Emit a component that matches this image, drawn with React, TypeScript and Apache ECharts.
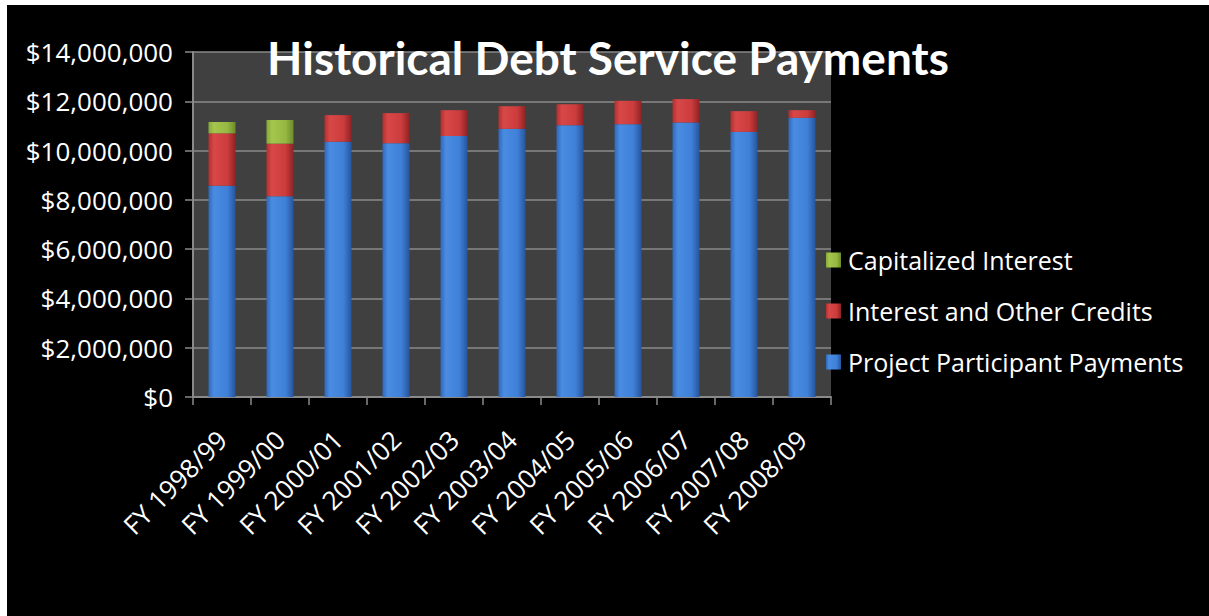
import React, { useEffect, useRef } from "react";
import * as echarts from "echarts";

const categories = [
  "FY 1998/99", "FY 1999/00", "FY 2000/01", "FY 2001/02", "FY 2002/03", "FY 2003/04",
  "FY 2004/05", "FY 2005/06", "FY 2006/07", "FY 2007/08", "FY 2008/09",
];
const projectParticipantPayments = [
  8570000, 8150000, 10360000, 10300000, 10590000, 10880000,
  11030000, 11070000, 11140000, 10760000, 11330000,
];
const interestAndOtherCredits = [
  2130000, 2130000, 1080000, 1220000, 1050000, 920000,
  850000, 950000, 950000, 840000, 310000,
];
const capitalizedInterest = [460000, 960000, 0, 0, 0, 0, 0, 0, 0, 0, 0];
const yTicks = [0, 2000000, 4000000, 6000000, 8000000, 10000000, 12000000, 14000000];

const FONT = "'Open Sans', 'DejaVu Sans', sans-serif";

function grad(edgeL: string, light: string, mid: string, edgeR: string) {
  return new echarts.graphic.LinearGradient(0, 0, 1, 0, [
    { offset: 0, color: edgeL },
    { offset: 0.2, color: light },
    { offset: 0.7, color: mid },
    { offset: 1, color: edgeR },
  ]);
}

export default function App() {
  const ref = useRef<HTMLDivElement>(null);
  useEffect(() => {
    if (!ref.current) return;
    const chart = echarts.init(ref.current, undefined, { renderer: "svg" });
    const fmt = (v: number) => "$" + v.toLocaleString("en-US");
    chart.setOption({
      animation: false,
      backgroundColor: "#000000",
      title: {
        text: "Historical Debt Service Payments",
        left: "center",
        top: 24,
        textStyle: {
          color: "#ffffff",
          fontFamily: "Lato, 'Open Sans', sans-serif",
          fontWeight: "bold",
          fontSize: 46,
        },
      },
      legend: {
        orient: "vertical",
        left: 814,
        top: 236,
        itemWidth: 15,
        itemHeight: 15,
        itemGap: 23,
        icon: "rect",
        data: ["Capitalized Interest", "Interest and Other Credits", "Project Participant Payments"],
        textStyle: { color: "#ffffff", fontFamily: FONT, fontSize: 25, lineHeight: 28, padding: [0, 0, 0, 2] },
      },
      grid: {
        left: 186,
        top: 47,
        right: 378,
        bottom: 219,
        show: true,
        backgroundColor: "#404040",
        borderWidth: 0,
      },
      xAxis: {
        type: "category",
        data: categories,
        boundaryGap: true,
        axisLine: { show: true, lineStyle: { color: "#8a8a8a", width: 2 } },
        axisTick: { show: true, alignWithLabel: false, length: 8, lineStyle: { color: "#8a8a8a", width: 1.5 } },
        axisLabel: {
          interval: 0,
          rotate: 45,
          margin: 38,
          color: "#ffffff",
          fontFamily: FONT,
          fontSize: 26,
        },
      },
      yAxis: {
        type: "value",
        min: yTicks[0],
        max: yTicks[yTicks.length - 1],
        interval: 2000000,
        axisLine: { show: true, lineStyle: { color: "#8a8a8a", width: 2 } },
        axisTick: { show: true, length: 8, lineStyle: { color: "#8a8a8a", width: 1.5 } },
        splitLine: { show: true, lineStyle: { color: "#8a8a8a", width: 1.5 } },
        axisLabel: {
          margin: 20,
          color: "#ffffff",
          fontFamily: FONT,
          fontSize: 26,
          formatter: fmt,
        },
      },
      series: [
        {
          name: "Project Participant Payments",
          type: "bar",
          stack: "total",
          barWidth: 27,
          data: projectParticipantPayments,
          itemStyle: { color: grad("#2f68ba", "#4a8ce2", "#3f80d8", "#27559c") },
        },
        {
          name: "Interest and Other Credits",
          type: "bar",
          stack: "total",
          barWidth: 27,
          data: interestAndOtherCredits,
          itemStyle: { color: grad("#b32f30", "#d84848", "#cc3c3d", "#8e2324") },
        },
        {
          name: "Capitalized Interest",
          type: "bar",
          stack: "total",
          barWidth: 27,
          data: capitalizedInterest.map((v) => (v === 0 ? null : v)),
          itemStyle: { color: grad("#86a83a", "#a4c64c", "#96b843", "#6c8c2a") },
        },
      ],
    });
    return () => chart.dispose();
  }, []);
  return (
    <div
      ref={ref}
      style={{ position: "absolute", left: 7, top: 5, width: 1202, height: 611 }}
    />
  );
}
